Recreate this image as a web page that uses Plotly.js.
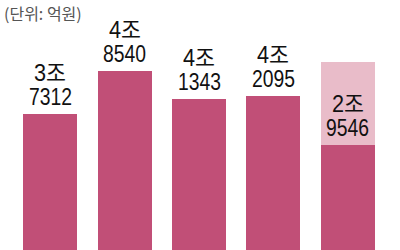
<!DOCTYPE html>
<html>
<head>
<meta charset="utf-8">
<script src="https://cdn.plot.ly/plotly-3.0.1.min.js"></script>
<style>html,body{margin:0;padding:0;background:#fff;}#chart{width:400px;height:250px;}</style>
</head>
<body>
<div id="chart"></div>
<script>
const categories = ['A', 'B', 'C', 'D', 'E'];
const values = [37312, 48540, 41343, 42095, 29546];
const extra = [0, 0, 0, 0, 21300];
const unitLabel = '(단위: 억원)';

const darkColor = '#C14F77';
const lightColor = '#E9BCC9';
const numFont = 'Liberation Sans, Arial, Noto Sans CJK KR, sans-serif';

const traces = [
  {type: 'bar', x: categories, y: values, marker: {color: darkColor, line: {width: 0}}, hoverinfo: 'skip'},
  {type: 'bar', x: categories, y: extra, marker: {color: lightColor, line: {width: 0}}, hoverinfo: 'skip'}
];

const annotations = [];
categories.forEach((c, i) => {
  const v = values[i];
  const jo = Math.floor(v / 10000);
  const rest = String(v % 10000).padStart(4, '0');
  annotations.push({x: c, y: v, xref: 'x', yref: 'y', text: rest, showarrow: false,
    yanchor: 'bottom', yshift: 2, name: 'num', font: {family: numFont, size: 23, color: '#111'}});
  annotations.push({x: c, y: v, xref: 'x', yref: 'y', text: jo + '조', showarrow: false,
    yanchor: 'bottom', yshift: 26, name: 'jo', font: {family: numFont, size: 23, color: '#111'}});
});
annotations.push({x: 0, y: 1, xref: 'paper', yref: 'paper', text: unitLabel, showarrow: false,
  xanchor: 'left', yanchor: 'top', xshift: -11, yshift: 1, name: 'unit',
  font: {family: 'Noto Sans CJK KR, sans-serif', size: 16, color: '#555'}});

const layout = {
  width: 400, height: 250,
  margin: {l: 13, r: 15, t: 0, b: 0, pad: 0},
  paper_bgcolor: '#fff', plot_bgcolor: '#fff',
  barmode: 'stack', bargap: 0.273,
  showlegend: false,
  xaxis: {visible: false, type: 'category', range: [-0.5, 4.5]},
  yaxis: {visible: false, range: [2323, 66850]},
  annotations: annotations
};

Plotly.newPlot('chart', traces, layout, {displayModeBar: false, staticPlot: true}).then(() => {
  // condense the numeric labels to match the narrow typeface of the original
  document.querySelectorAll('#chart .annotation-text').forEach(t => {
    const s = t.textContent;
    if (/^\d{4}$/.test(s)) {
      t.setAttribute('textLength', 43);
      t.setAttribute('lengthAdjust', 'spacingAndGlyphs');
    } else if (/조$/.test(s)) {
      t.setAttribute('textLength', 32);
      t.setAttribute('lengthAdjust', 'spacingAndGlyphs');
    }
  });
});
</script>
</body>
</html>
